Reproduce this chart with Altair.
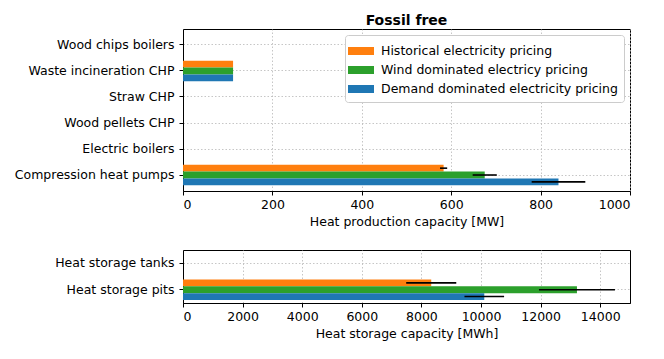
import altair as alt
import pandas as pd

series = ["Historical electricity pricing", "Wind dominated electricy pricing", "Demand dominated electricity pricing"]
colors = ["#ff7f0e", "#2ca02c", "#1f77b4"]

prod_cats = ["Wood chips boilers", "Waste incineration CHP", "Straw CHP", "Wood pellets CHP",
             "Electric boilers", "Compression heat pumps"]
prod_hist = [0, 112, 0, 0, 0, 583]
prod_wind = [0, 112, 0, 0, 0, 675]
prod_demand = [0, 112, 0, 0, 0, 840]
prod_err_hist = [0, 0, 0, 0, 0, 8]
prod_err_wind = [0, 0, 0, 0, 0, 27]
prod_err_demand = [0, 0, 0, 0, 0, 60]

stor_cats = ["Heat storage tanks", "Heat storage pits"]
stor_hist = [0, 8330]
stor_wind = [0, 13220]
stor_demand = [0, 10110]
stor_err_hist = [0, 840]
stor_err_wind = [0, 1275]
stor_err_demand = [0, 665]

prod_ticks = [0, 200, 400, 600, 800, 1000]
stor_ticks = [0, 2000, 4000, 6000, 8000, 10000, 12000, 14000]

FONT = "DejaVu Sans"
FS = 12.5


def build(cats, vals, errs):
    rows = []
    for s, v, e in zip(series, vals, errs):
        for c, x, er in zip(cats, v, e):
            rows.append({"cat": c, "series": s, "value": x, "lo": x - er, "hi": x + er, "err": er})
    return pd.DataFrame(rows)


prod_df = build(prod_cats, [prod_hist, prod_wind, prod_demand],
                [prod_err_hist, prod_err_wind, prod_err_demand])
stor_df = build(stor_cats, [stor_hist, stor_wind, stor_demand],
                [stor_err_hist, stor_err_wind, stor_err_demand])


def panel(df, cats, xtitle, domain, ticks, height, pin, pout, legend):
    base = alt.Chart(df)
    y = alt.Y("cat:N", sort=cats, title=None,
              scale=alt.Scale(paddingInner=pin, paddingOuter=pout),
              axis=alt.Axis(grid=True, tickSize=4, labelPadding=5, labelLimit=0))
    yoff = alt.YOffset("series:N", sort=series)
    x = alt.X("value:Q", title=xtitle,
              scale=alt.Scale(domain=domain, nice=False),
              axis=alt.Axis(values=ticks, format="d", grid=True, tickSize=4, labelPadding=3,
                            titlePadding=5))
    if legend:
        lg = alt.Legend(title=None, orient="top-right", offset=6, fillColor="white",
                        strokeColor="#cccccc", cornerRadius=3, padding=6,
                        symbolType="M-1.3,-0.4L1.3,-0.4L1.3,0.4L-1.3,0.4Z", symbolSize=400,
                        symbolStrokeWidth=0, labelFont=FONT, labelFontSize=FS,
                        labelColor="black", rowPadding=2, labelOffset=10, labelLimit=0)
    else:
        lg = None
    color = alt.Color("series:N", sort=series,
                      scale=alt.Scale(domain=series, range=colors), legend=lg)
    bars = base.mark_bar().encode(y=y, yOffset=yoff, x=x, color=color)
    rules = base.transform_filter("datum.err > 0").mark_rule(color="black", strokeWidth=1.6).encode(
        y=y, yOffset=yoff, x=alt.X("lo:Q"), x2="hi:Q")
    return alt.layer(bars, rules).properties(width=447, height=height)


top = panel(prod_df, prod_cats, "Heat production capacity [MW]", [0, 1000], prod_ticks,
            162, 0.21, 0.22, True).properties(
    title=alt.TitleParams("Fossil free", fontSize=14, fontWeight="bold", font=FONT,
                          anchor="middle", color="black", offset=1))
bottom = panel(stor_df, stor_cats, "Heat storage capacity [MWh]", [0, 15000], stor_ticks,
               53, 0.22, 0.1, False)

chart = alt.vconcat(top, bottom, spacing=20).resolve_legend(color="independent").configure_view(
    stroke="black", strokeWidth=1
).configure_axis(
    labelFont=FONT, labelFontSize=FS, titleFont=FONT, titleFontSize=FS,
    titleFontWeight="normal", labelColor="black", titleColor="black",
    domainColor="black", tickColor="black", gridColor="#b8b8b8", gridDash=[1.5, 2],
    gridWidth=0.8
)

chart.save("out.html", embed_options={"renderer": "svg", "actions": False})
